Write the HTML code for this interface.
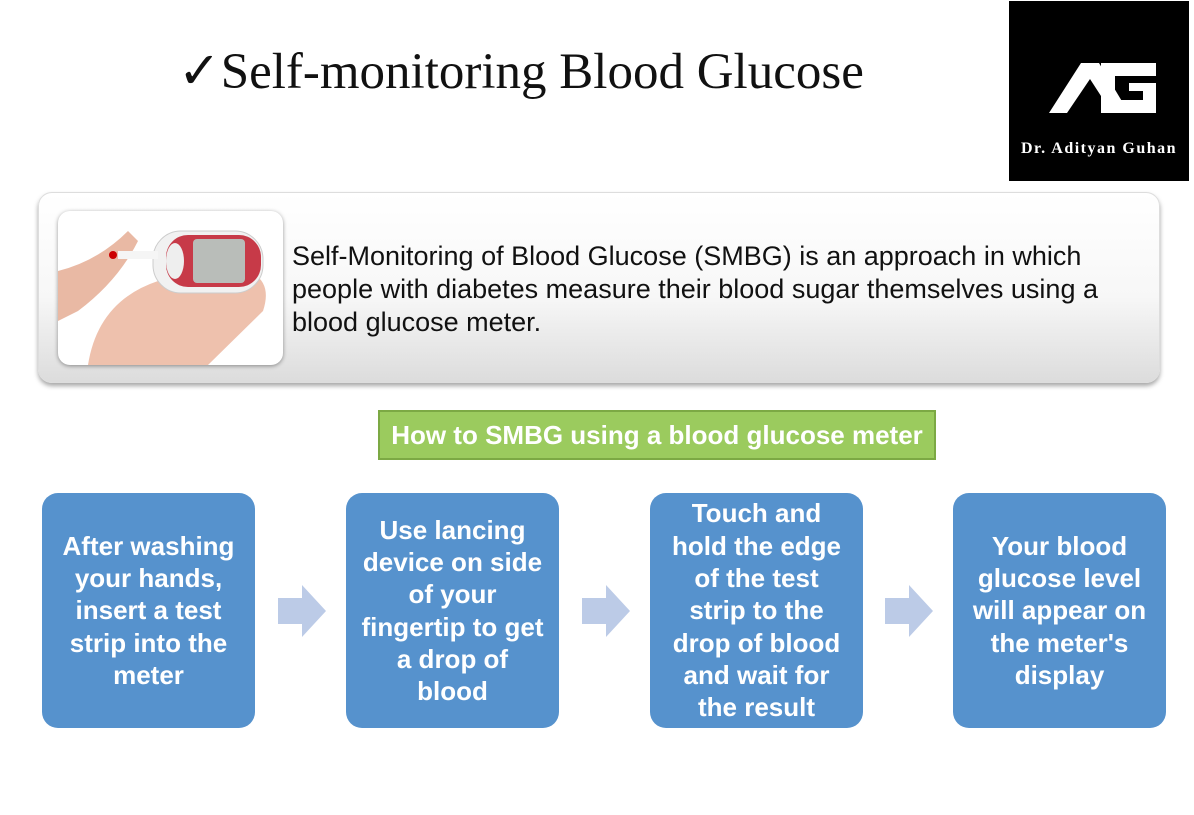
<!DOCTYPE html>
<html><head><style>
body{margin:0;width:1194px;height:815px;background:#fff;position:relative;overflow:hidden;font-family:"Liberation Sans",sans-serif}
.abs{position:absolute}
.title{left:178px;top:42px;font-family:"Liberation Serif",serif;font-size:51px;color:#111;white-space:nowrap}
.logo{left:1009px;top:1px;width:180px;height:180px;background:#000}
.card{left:38px;top:192px;width:1122px;height:191px;border-radius:14px;background:linear-gradient(#fff 0%,#f7f7f7 55%,#dcdcdc 100%);box-shadow:0 3px 5px rgba(0,0,0,.35);border:1px solid #ddd;box-sizing:border-box}
.img{left:58px;top:211px;width:225px;height:154px;border-radius:12px;background:#fff;box-shadow:0 1px 4px rgba(0,0,0,.4);overflow:hidden}
.desc{left:292px;top:240px;font-size:27px;line-height:33px;color:#111;white-space:nowrap}
.green{left:378px;top:410px;width:558px;height:50px;background:#9bcb5e;border:2px solid #7ca944;box-sizing:border-box;color:#fff;font-weight:bold;font-size:26px;text-align:center;line-height:46px;white-space:nowrap}
.step{top:493px;width:213px;height:235px;background:#5692cd;border-radius:16px;color:#fff;font-weight:bold;font-size:26px;line-height:32.3px;display:flex;align-items:center;justify-content:center;text-align:center;white-space:nowrap}
.arr{top:585px;width:48px;height:52px}
</style></head><body>
<div class="abs title">✓Self-monitoring Blood Glucose</div>
<div class="abs logo">
<svg width="180" height="180" viewBox="0 0 180 180">
<polygon points="40,112 72,62 90,62 120,112 103,112 81,78 58,112" fill="#fff"/>
<path d="M92,62 H147 V75 H106 V99 H134 V90 H120 V82 H147 V112 H92 Z" fill="#fff"/>
<text x="90" y="152" fill="#fff" font-family="Liberation Serif,serif" font-size="16" font-weight="bold" text-anchor="middle" letter-spacing="1.5">Dr. Adityan Guhan</text>
</svg></div>
<div class="abs card"></div>
<div class="abs img">
<svg width="225" height="154">
<path d="M0,60 Q40,50 70,20 L80,30 Q60,70 20,100 L0,110Z" fill="#e9b9a4"/>
<path d="M30,154 Q40,90 100,70 L190,60 Q215,70 205,100 L150,154Z" fill="#eec1ad"/>
<rect x="95" y="20" width="110" height="62" rx="28" fill="#f1f1f1" stroke="#ccc"/>
<rect x="108" y="24" width="95" height="52" rx="22" fill="#c73a48"/>
<rect x="135" y="28" width="52" height="44" rx="4" fill="#b9bdb9"/>
<ellipse cx="117" cy="50" rx="9" ry="18" fill="#eee"/>
<rect x="60" y="40" width="40" height="8" fill="#f5f5f5"/>
<circle cx="55" cy="44" r="4" fill="#c00"/>
</svg></div>
<div class="abs desc">Self-Monitoring of Blood Glucose (SMBG) is an approach in which<br>people with diabetes measure their blood sugar themselves using a<br>blood glucose meter.</div>
<div class="abs green">How to SMBG using a blood glucose meter</div>
<div class="abs step" style="left:42px">After washing<br>your hands,<br>insert a test<br>strip into the<br>meter</div>
<div class="abs step" style="left:346px">Use lancing<br>device on side<br>of your<br>fingertip to get<br>a drop of<br>blood</div>
<div class="abs step" style="left:650px">Touch and<br>hold the edge<br>of the test<br>strip to the<br>drop of blood<br>and wait for<br>the result</div>
<div class="abs step" style="left:953px">Your blood<br>glucose level<br>will appear on<br>the meter's<br>display</div>
<svg class="abs arr" style="left:278px" viewBox="0 0 48 52"><polygon points="0,13 24,13 24,0 48,26 24,52 24,39 0,39" fill="#bccbe7"/></svg>
<svg class="abs arr" style="left:582px" viewBox="0 0 48 52"><polygon points="0,13 24,13 24,0 48,26 24,52 24,39 0,39" fill="#bccbe7"/></svg>
<svg class="abs arr" style="left:885px" viewBox="0 0 48 52"><polygon points="0,13 24,13 24,0 48,26 24,52 24,39 0,39" fill="#bccbe7"/></svg>
</body></html>
